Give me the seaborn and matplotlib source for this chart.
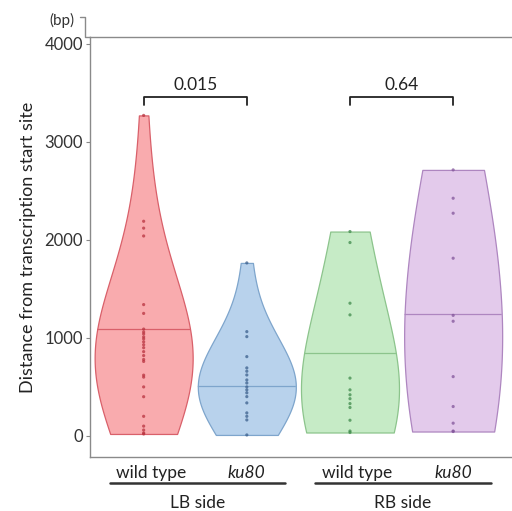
import matplotlib
matplotlib.use("Agg")
import matplotlib.pyplot as plt
import pandas as pd
import seaborn as sns

# values (bp)
groups = ["LB wild type", "LB ku80", "RB wild type", "RB ku80"]
tick_names = ["wild type", "ku80", "wild type", "ku80"]
lb_wt = [3270, 2190, 2120, 2040, 1340, 1250, 1090, 1060, 1040, 1010, 990, 960, 930,
         900, 860, 820, 780, 760, 620, 600, 500, 400, 200, 100, 60, 30, 20]
lb_ku80 = [1765, 1064, 1013, 809, 694, 660, 622, 571, 540, 500, 470, 440, 401, 337,
           235, 200, 163, 10]
rb_wt = [2085, 1973, 1354, 1235, 590, 470, 420, 380, 330, 290, 160, 50, 35]
rb_ku80 = [2714, 2425, 2272, 1813, 1230, 1170, 605, 300, 130, 50, 45]
centre_lines = [1090, 505, 850, 1245]
p_values = ["0.015", "0.64"]

fill_cols = ["#F9ABAE", "#B8D2EC", "#C6EBC6", "#E3CAEB"]
edge_cols = ["#D9606A", "#7EA5CC", "#8CC48C", "#AE86C0"]
dot_cols = ["#B8323E", "#3B5F8C", "#3F8A4C", "#82559A"]

df = pd.DataFrame({
    "group": sum([[g] * len(v) for g, v in zip(groups, [lb_wt, lb_ku80, rb_wt, rb_ku80])], []),
    "value": lb_wt + lb_ku80 + rb_wt + rb_ku80,
})

sns.set_style("white")
plt.rcParams["font.family"] = ["Lato", "DejaVu Sans"]

fig = plt.figure(figsize=(5.12, 5.11), dpi=100)
ax = fig.add_axes([90 / 512, 1 - 457 / 511, 1 - 90 / 512 + 0.01, (457 - 37) / 511])

sns.violinplot(data=df, x="group", y="value", hue="group", order=groups, hue_order=groups,
               palette=fill_cols, saturation=1, cut=0, inner=None, density_norm="width",
               width=0.95, bw_adjust=1.9, linewidth=0.9, legend=False, ax=ax)
violins = list(ax.collections[:4])
for coll, ec in zip(violins, edge_cols):
    coll.set_edgecolor(ec)

# centre line, clipped to the violin body
for i, (yv, coll) in enumerate(zip(centre_lines, violins)):
    ln = ax.hlines(yv, i - 0.6, i + 0.6, color=edge_cols[i], lw=0.9)
    ln.set_clip_path(coll.get_paths()[0], coll.get_transform())

sns.stripplot(data=df, x="group", y="value", hue="group", order=groups, hue_order=groups,
              palette=dot_cols, jitter=False, size=2.3, alpha=0.75, legend=False, ax=ax)

ax.set_xlim(-0.52, 3.62)
ax.set_ylim(-215, 4070)
ax.set_yticks([0, 1000, 2000, 3000, 4000])
ax.set_xticks([])
ax.set_xlabel("")
ax.set_ylabel("Distance from transcription start site", fontsize=13, color="#222222", labelpad=6)
ax.tick_params(axis="y", left=True, length=3, width=0.8, color="#888888",
               labelsize=12, labelcolor="#333333", pad=2)
for side in ["left", "bottom", "top"]:
    ax.spines[side].set_color("#8a8a8a")
    ax.spines[side].set_linewidth(1.0)
ax.spines["right"].set_visible(False)

# significance brackets
for (x0, x1), p in zip([(0, 1), (2, 3)], p_values):
    ax.plot([x0, x0, x1, x1], [3380, 3460, 3460, 3380], color="#222222", lw=1.3, clip_on=False)
    ax.text((x0 + x1) / 2, 3500, p, ha="center", va="bottom", fontsize=12.5, color="#222222")

# group labels below axis
trans = ax.get_xaxis_transform()
for i, name in enumerate(tick_names):
    style = "italic" if name == "ku80" else "normal"
    ax.text(i + (0.07 if i % 2 == 0 else 0), -0.018, name, transform=trans, ha="center", va="top",
            fontsize=12.5, style=style, color="#222222")
for (x0, x1), side in zip([(-0.33, 1.37), (1.66, 3.37)], ["LB side", "RB side"]):
    ax.plot([x0, x1], [-0.062, -0.062], transform=trans, color="#333333", lw=1.8, clip_on=False)
    ax.text((x0 + x1) / 2, -0.09, side, transform=trans, ha="center", va="top",
            fontsize=12.5, color="#222222")

# (bp) unit mark
fig.text(62 / 512, 1 - 20 / 511, "(bp)", ha="center", va="center", fontsize=11, color="#333333")
fig.add_artist(plt.Line2D([80 / 512, 85 / 512, 85 / 512, 90 / 512],
                          [1 - 17 / 511, 1 - 17 / 511, 1 - 37 / 511, 1 - 37 / 511],
                          color="#8a8a8a", lw=1.0))

fig.savefig("out.png", dpi=100)
